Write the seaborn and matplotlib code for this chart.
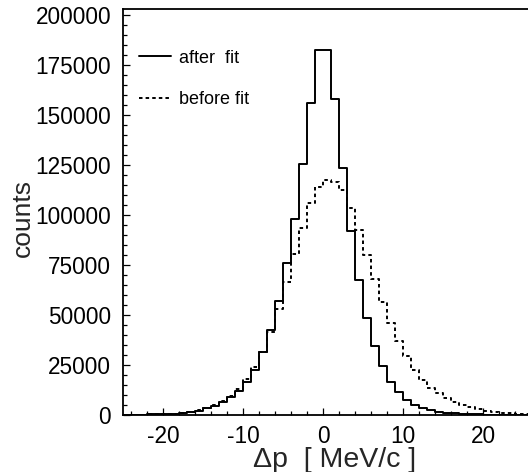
import matplotlib
matplotlib.use("Agg")
import matplotlib.pyplot as plt
import numpy as np
import pandas as pd
import seaborn as sns
from matplotlib.ticker import MultipleLocator

# ---- data ----
bin_edges = list(range(-25, 27))  # 51 bins of width 1 MeV/c
after_fit = [100, 150, 200, 300, 400, 500, 700, 1000, 1500, 2200,
             3300, 4700, 6700, 9200, 12000, 16700, 22500, 31700, 42500, 57200,
             75800, 98000, 125300, 156200, 182500, 182500, 158000, 123700, 92000, 67500,
             48700, 34700, 24500, 16700, 11300, 7500, 5000, 3400, 2300, 1600,
             1100, 800, 600, 400, 300, 250, 200, 150, 100, 100, 80]
before_fit = [100, 150, 200, 300, 400, 550, 750, 1100, 1600, 2400,
              3500, 5000, 7000, 9600, 12800, 17800, 24200, 31500, 41700, 52800,
              66700, 80700, 93300, 105800, 113800, 117500, 116700, 112500, 103500, 92500,
              80200, 68200, 56500, 46000, 37000, 29300, 22500, 17500, 13700, 10800,
              8300, 6700, 5000, 3800, 2800, 2200, 1700, 1200, 900, 700, 500]
series_labels = ["after  fit", "before fit"]
x_ticks = [-20, -10, 0, 10, 20]
y_ticks = [0, 25000, 50000, 75000, 100000, 125000, 150000, 175000, 200000]

sns.set_style("ticks", {"axes.edgecolor": "black", "text.color": "black",
                        "xtick.color": "black", "ytick.color": "black"})
plt.rcParams['font.family'] = ['Liberation Sans', 'DejaVu Sans']
plt.rcParams['axes.unicode_minus'] = False

centers = [e + 0.5 for e in bin_edges[:-1]]
df_after = pd.DataFrame({"dp": centers, "counts": after_fit})
df_before = pd.DataFrame({"dp": centers, "counts": before_fit})

fig = plt.figure(figsize=(5.28, 4.72), dpi=100)
ax = fig.add_axes([123 / 528, 57 / 472, 405 / 528, 406 / 472])

sns.histplot(data=df_after, x="dp", weights="counts", bins=bin_edges,
             element="step", fill=False, color="black", linewidth=1.4,
             label=series_labels[0], ax=ax)
sns.histplot(data=df_before, x="dp", weights="counts", bins=bin_edges,
             element="step", fill=False, color="black", linewidth=1.4,
             linestyle=(0, (1.8, 1.6)), label=series_labels[1], ax=ax)

ax.set_xlim(-25, 25.625)
ax.set_ylim(0, 203000)
ax.set_xticks(x_ticks)
ax.set_yticks(y_ticks)
ax.set_yticklabels([str(v) for v in y_ticks])
ax.xaxis.set_minor_locator(MultipleLocator(2))
ax.yaxis.set_minor_locator(MultipleLocator(5000))
ax.tick_params(which="both", direction="in", top=False, right=False,
               colors="black", width=0.9)
ax.tick_params(which="major", length=5, labelsize=16.3)
ax.tick_params(which="minor", length=2.8)
ax.tick_params(axis="y", which="major", pad=8.5)
ax.tick_params(axis="x", which="major", pad=7.5)

for s in ["left", "bottom", "top"]:
    ax.spines[s].set_visible(True)
    ax.spines[s].set_linewidth(1.3)
    ax.spines[s].set_color("black")
ax.spines["right"].set_visible(False)

ax.set_xlabel("\u0394p  [ MeV/c ]", fontsize=20.5, va="top")
ax.xaxis.set_label_coords(0.523, -0.079)
ax.set_ylabel("counts", fontsize=19)
ax.yaxis.set_label_coords(-0.218, 0.485)

ax.legend(loc="upper left", bbox_to_anchor=(0.0395, 0.9), frameon=False,
          fontsize=13, handlelength=1.77, handletextpad=0.44,
          labelspacing=1.35, borderpad=0, borderaxespad=0)

fig.savefig("out.png", dpi=100)
